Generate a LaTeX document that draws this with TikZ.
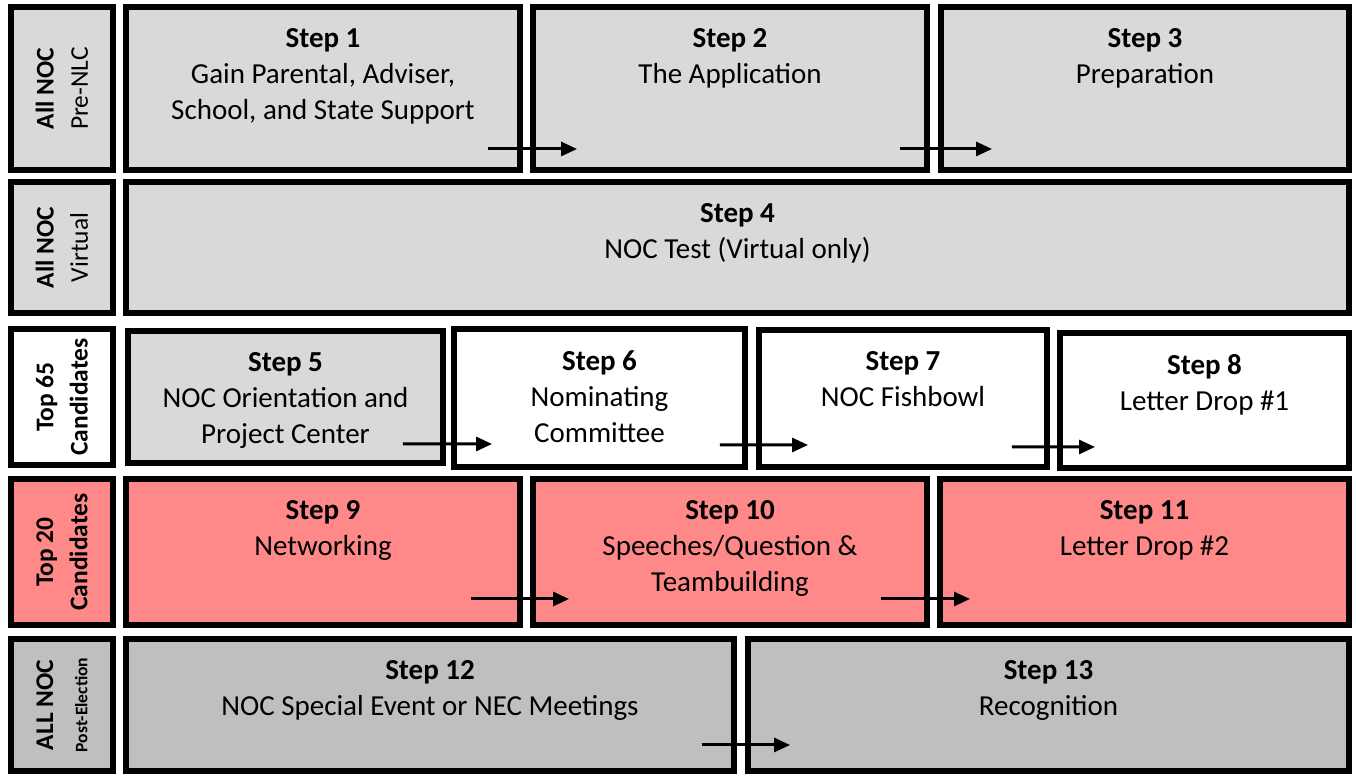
\documentclass[tikz,border=0pt]{standalone}
\usepackage{fontspec}
\setmainfont{Carlito}
\usetikzlibrary{positioning,arrows.meta}
\definecolor{lightgray}{HTML}{D9D9D9}
\definecolor{midgray}{HTML}{BFBFBF}
\definecolor{salmon}{HTML}{FF8989}
\begin{document}
\begin{tikzpicture}[
       x=0.02cm, y=-0.02cm,
       stepbox/.style={rectangle, draw=black, line width=0.12cm, inner sep=0pt},
       rowlabel/.style={stepbox, minimum width=2.04cm},
       steptext/.style={align=center, inner sep=0pt, font=\fontsize{16.5}{20.5}\selectfont},
       labeltext/.style={align=center, rotate=90, inner sep=0pt, font=\fontsize{14.5}{19.5}\selectfont},
       arrow/.style={-{Triangle[length=0.32cm, width=0.28cm]}, line width=0.06cm, black}
   ]
   \useasboundingbox (0,0) rectangle (1356,776);

   % row labels
   \node[rowlabel, fill=lightgray, minimum height=3.26cm] (l1) at (62,88.5) {};
   \node[rowlabel, fill=lightgray, minimum height=2.62cm] (l2) at (62,247.5) {};
   \node[rowlabel, fill=white, minimum height=2.72cm] (l3) at (62,397) {};
   \node[rowlabel, fill=salmon, minimum height=2.92cm] (l4) at (62,552) {};
   \node[rowlabel, fill=midgray, minimum height=2.64cm] (l5) at (62,705) {};
   \node[labeltext] (lt1) at (l1.center) {\textbf{All NOC}\\Pre-NLC};
   \node[labeltext] (lt2) at (l2.center) {\textbf{All NOC}\\Virtual};
   \node[labeltext] (lt3) at (l3.center) {\textbf{Top 65}\\\textbf{Candidates}};
   \node[labeltext] (lt4) at (l4.center) {\textbf{Top 20}\\\textbf{Candidates}};
   \node[labeltext] (lt5) at (l5.center) {\textbf{ALL NOC}\\{\fontsize{10}{12}\selectfont\textbf{Post-Election}}};

   % step boxes
   \node[stepbox, fill=lightgray, minimum width=7.88cm, minimum height=3.26cm] (s1) at (323,88.5) {};
   \node[stepbox, fill=lightgray, minimum width=7.88cm, minimum height=3.26cm] (s2) at (730,88.5) {};
   \node[stepbox, fill=lightgray, minimum width=8.16cm, minimum height=3.26cm] (s3) at (1145,88.5) {};
   \node[stepbox, fill=lightgray, minimum width=24.46cm, minimum height=2.62cm] (s4) at (737.5,247.5) {};
   \node[stepbox, fill=lightgray, minimum width=6.3cm, minimum height=2.64cm] (s5) at (285.5,397) {};
   \node[stepbox, fill=white, minimum width=5.82cm, minimum height=2.76cm] (s6) at (599.5,398) {};
   \node[stepbox, fill=white, minimum width=5.76cm, minimum height=2.74cm] (s7) at (903,398.5) {};
   \node[stepbox, fill=white, minimum width=5.78cm, minimum height=2.7cm] (s8) at (1204.5,400.5) {};
   \node[stepbox, fill=salmon, minimum width=7.88cm, minimum height=2.92cm] (s9) at (323,552) {};
   \node[stepbox, fill=salmon, minimum width=7.88cm, minimum height=2.92cm] (s10) at (730,552) {};
   \node[stepbox, fill=salmon, minimum width=8.18cm, minimum height=2.92cm] (s11) at (1144.5,552) {};
   \node[stepbox, fill=midgray, minimum width=12.16cm, minimum height=2.64cm] (s12) at (430,705) {};
   \node[stepbox, fill=midgray, minimum width=12.02cm, minimum height=2.64cm] (s13) at (1048.5,705) {};

   % step texts
   \node[steptext, below=0.48cm of s1.north] (t1) {\textbf{Step 1}\\Gain Parental, Adviser,\\School, and State Support};
   \node[steptext, below=0.48cm of s2.north] (t2) {\textbf{Step 2}\\The Application};
   \node[steptext, below=0.48cm of s3.north] (t3) {\textbf{Step 3}\\Preparation};
   \node[steptext, below=0.48cm of s4.north] (t4) {\textbf{Step 4}\\NOC Test (Virtual only)};
   \node[steptext, below=0.48cm of s5.north] (t5) {\textbf{Step 5}\\NOC Orientation and\\Project Center};
   \node[steptext, below=0.48cm of s6.north] (t6) {\textbf{Step 6}\\Nominating\\Committee};
   \node[steptext, below=0.48cm of s7.north] (t7) {\textbf{Step 7}\\NOC Fishbowl};
   \node[steptext, below=0.48cm of s8.north] (t8) {\textbf{Step 8}\\Letter Drop \#1};
   \node[steptext, below=0.48cm of s9.north] (t9) {\textbf{Step 9}\\Networking};
   \node[steptext, below=0.48cm of s10.north] (t10) {\textbf{Step 10}\\Speeches/Question \&\\Teambuilding};
   \node[steptext, below=0.48cm of s11.north] (t11) {\textbf{Step 11}\\Letter Drop \#2};
   \node[steptext, below=0.48cm of s12.north] (t12) {\textbf{Step 12}\\NOC Special Event or NEC Meetings};
   \node[steptext, below=0.48cm of s13.north] (t13) {\textbf{Step 13}\\Recognition};

   \draw[arrow] ([shift={(-35,-24)}]s1.south east) -- ([shift={(47,-24)}]s2.south west);
   \draw[arrow] ([shift={(-30,-24)}]s2.south east) -- ([shift={(54,-24)}]s3.south west);
   \draw[arrow] ([shift={(-43,-22)}]s5.south east) -- ([shift={(41,-26)}]s6.south west);
   \draw[arrow] ([shift={(-28,-25)}]s6.south east) -- ([shift={(52,-25)}]s7.south west);
   \draw[arrow] ([shift={(-38,-23)}]s7.south east) -- ([shift={(38,-24)}]s8.south west);
   \draw[arrow] ([shift={(-52,-29)}]s9.south east) -- ([shift={(39,-29)}]s10.south west);
   \draw[arrow] ([shift={(-49,-29)}]s10.south east) -- ([shift={(33,-29)}]s11.south west);
   \draw[arrow] ([shift={(-35,-29)}]s12.south east) -- ([shift={(45,-29)}]s13.south west);
\end{tikzpicture}
\end{document}
